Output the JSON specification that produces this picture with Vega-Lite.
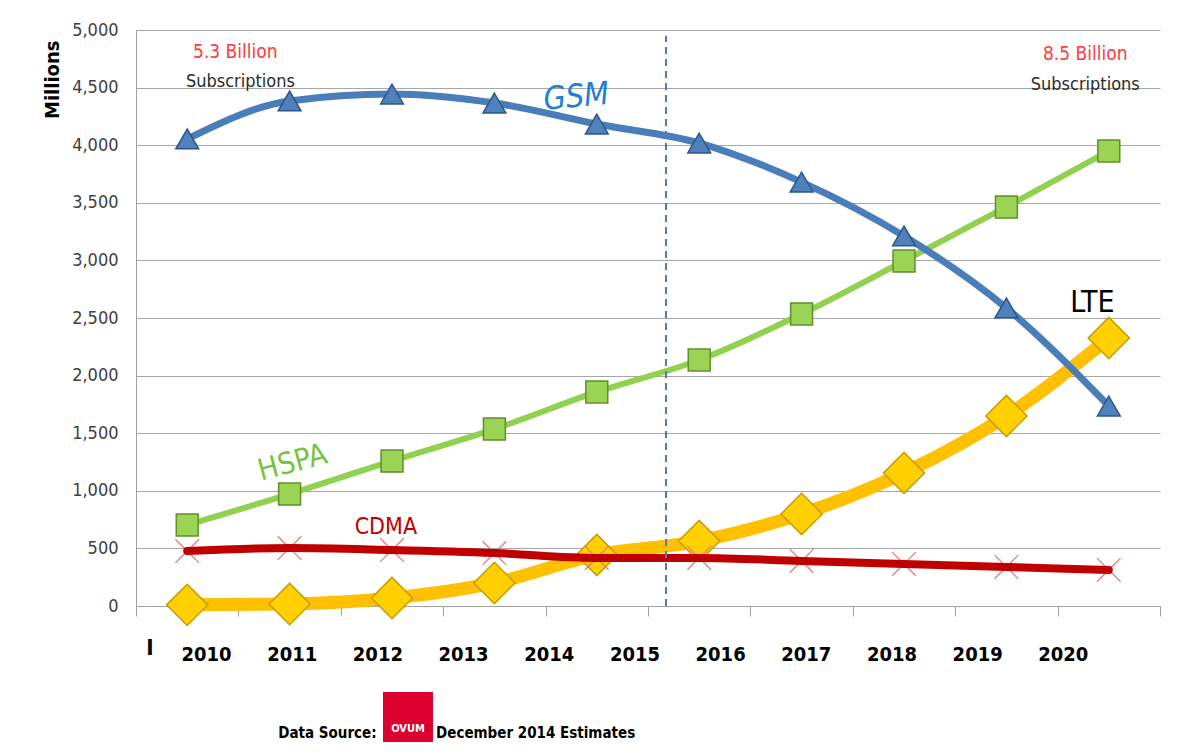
{
  "$schema": "https://vega.github.io/schema/vega-lite/v6.json",
  "width": 1024,
  "height": 576,
  "autosize": {"type": "none"},
  "padding": {"left": 136, "top": 30, "right": 25, "bottom": 149},
  "background": "white",
  "config": {
    "view": {"stroke": null},
    "font": "DejaVu Sans Condensed, Liberation Sans, sans-serif",
    "text": {"font": "DejaVu Sans Condensed, Liberation Sans, sans-serif"}
  },
  "datasets": {
    "subs": [
      {"point": 1, "series": "GSM", "value": 4054},
      {"point": 2, "series": "GSM", "value": 4384},
      {"point": 3, "series": "GSM", "value": 4444},
      {"point": 4, "series": "GSM", "value": 4366},
      {"point": 5, "series": "GSM", "value": 4184},
      {"point": 6, "series": "GSM", "value": 4019},
      {"point": 7, "series": "GSM", "value": 3680},
      {"point": 8, "series": "GSM", "value": 3212},
      {"point": 9, "series": "GSM", "value": 2587},
      {"point": 10, "series": "GSM", "value": 1736},
      {"point": 1, "series": "HSPA", "value": 703},
      {"point": 2, "series": "HSPA", "value": 972},
      {"point": 3, "series": "HSPA", "value": 1259},
      {"point": 4, "series": "HSPA", "value": 1536},
      {"point": 5, "series": "HSPA", "value": 1858},
      {"point": 6, "series": "HSPA", "value": 2135},
      {"point": 7, "series": "HSPA", "value": 2535},
      {"point": 8, "series": "HSPA", "value": 2995},
      {"point": 9, "series": "HSPA", "value": 3464},
      {"point": 10, "series": "HSPA", "value": 3950},
      {"point": 1, "series": "LTE", "value": 10},
      {"point": 2, "series": "LTE", "value": 17},
      {"point": 3, "series": "LTE", "value": 69},
      {"point": 4, "series": "LTE", "value": 200},
      {"point": 5, "series": "LTE", "value": 443},
      {"point": 6, "series": "LTE", "value": 564},
      {"point": 7, "series": "LTE", "value": 799},
      {"point": 8, "series": "LTE", "value": 1155},
      {"point": 9, "series": "LTE", "value": 1649},
      {"point": 10, "series": "LTE", "value": 2326},
      {"point": 1, "series": "CDMA", "value": 477},
      {"point": 2, "series": "CDMA", "value": 503},
      {"point": 3, "series": "CDMA", "value": 486},
      {"point": 4, "series": "CDMA", "value": 460},
      {"point": 5, "series": "CDMA", "value": 417},
      {"point": 6, "series": "CDMA", "value": 417},
      {"point": 7, "series": "CDMA", "value": 391},
      {"point": 8, "series": "CDMA", "value": 365},
      {"point": 9, "series": "CDMA", "value": 339},
      {"point": 10, "series": "CDMA", "value": 313}
    ],
    "years": [
      {"year": 2010}, {"year": 2011}, {"year": 2012}, {"year": 2013},
      {"year": 2014}, {"year": 2015}, {"year": 2016}, {"year": 2017},
      {"year": 2018}, {"year": 2019}, {"year": 2020}
    ]
  },
  "layer": [
    {
      "data": {"name": "subs"},
      "encoding": {
        "x": {
          "field": "point",
          "type": "quantitative",
          "scale": {"domain": [0.5, 10.5], "nice": false, "zero": false},
          "axis": {
            "values": [0.5, 1.5, 2.5, 3.5, 4.5, 5.5, 6.5, 7.5, 8.5, 9.5, 10.5],
            "labels": false,
            "grid": false,
            "ticks": true,
            "tickSize": 10,
            "tickColor": "#a0a0a0",
            "domainColor": "#a0a0a0",
            "title": null
          }
        },
        "y": {
          "field": "value",
          "type": "quantitative",
          "scale": {"domain": [0, 5000], "nice": false},
          "axis": {
            "values": [0, 500, 1000, 1500, 2000, 2500, 3000, 3500, 4000, 4500, 5000],
            "format": ",d",
            "labelFont": "DejaVu Sans Condensed, Liberation Sans, sans-serif",
            "labelFontSize": 18,
            "labelColor": "#404040",
            "labelPadding": 18,
            "ticks": false,
            "domainColor": "#a0a0a0",
            "gridColor": "#a6a6a6",
            "title": "Millions",
            "titleFont": "DejaVu Sans Condensed, Liberation Sans, sans-serif",
            "titleFontSize": 20,
            "titleFontWeight": "bold",
            "titleColor": "#000000",
            "titleAngle": -90,
            "titleAnchor": "end",
            "titleAlign": "right",
            "titleBaseline": "middle",
            "titleX": -84,
            "titleY": 10
          }
        }
      },
      "layer": [
        {
          "transform": [{"filter": "datum.series === 'LTE'"}],
          "mark": {"type": "line", "color": "#ffc000", "strokeWidth": 13, "interpolate": "monotone", "strokeCap": "round"}
        },
        {
          "transform": [{"filter": "datum.series === 'HSPA'"}],
          "mark": {"type": "line", "color": "#92d050", "strokeWidth": 6, "interpolate": "monotone"}
        },
        {
          "transform": [{"filter": "datum.series === 'GSM'"}],
          "mark": {"type": "line", "color": "#4a7ebb", "strokeWidth": 7, "interpolate": "monotone"}
        },
        {
          "transform": [{"filter": "datum.series === 'LTE'"}],
          "mark": {"type": "point", "shape": "diamond", "size": 1700, "filled": true, "fill": "#ffd000", "stroke": "#c89b00", "strokeWidth": 1.5, "opacity": 1}
        },
        {
          "transform": [{"filter": "datum.series === 'HSPA'"}],
          "mark": {"type": "point", "shape": "square", "size": 480, "filled": true, "fill": "#9bd355", "stroke": "#5f8f2a", "strokeWidth": 1.5, "opacity": 1}
        },
        {
          "transform": [{"filter": "datum.series === 'GSM'"}],
          "mark": {"type": "point", "shape": "triangle-up", "size": 520, "filled": true, "fill": "#4f81bd", "stroke": "#2f5686", "strokeWidth": 1.5, "opacity": 1}
        },
        {
          "transform": [{"filter": "datum.series === 'CDMA'"}],
          "mark": {"type": "point", "shape": "M-1,-1L1,1M1,-1L-1,1", "size": 560, "filled": false, "stroke": "#e8787a", "strokeWidth": 1.3, "opacity": 1}
        },
        {
          "transform": [{"filter": "datum.series === 'CDMA'"}],
          "mark": {"type": "line", "color": "#c00000", "strokeWidth": 8, "interpolate": "monotone", "strokeCap": "round"}
        },
        {
          "data": {"values": [{"point": 5.676, "value": 0, "value2": 4950}]},
          "mark": {"type": "rule", "color": "#4a7ebb", "strokeWidth": 2, "strokeDash": [7, 5]},
          "encoding": {"y2": {"field": "value2"}}
        },
        {
          "data": {"values": [
            {"point": 1.47, "value": 4809, "label": "5.3 Billion"},
            {"point": 9.77, "value": 4792, "label": "8.5 Billion"}
          ]},
          "mark": {"type": "text", "fontSize": 19, "color": "#ff3b3b", "align": "center", "baseline": "middle"},
          "encoding": {"text": {"field": "label"}}
        },
        {
          "data": {"values": [
            {"point": 1.52, "value": 4549, "label": "Subscriptions"},
            {"point": 9.77, "value": 4523, "label": "Subscriptions"}
          ]},
          "mark": {"type": "text", "fontSize": 18, "color": "#2b2b2b", "align": "center", "baseline": "middle"},
          "encoding": {"text": {"field": "label"}}
        },
        {
          "data": {"values": [{"point": 4.8, "value": 4420, "label": "GSM"}]},
          "mark": {"type": "text", "fontSize": 32, "fontStyle": "italic", "color": "#1f7fd4", "angle": -5, "align": "center", "baseline": "middle"},
          "encoding": {"text": {"field": "label"}}
        },
        {
          "data": {"values": [{"point": 2.03, "value": 1241, "label": "HSPA"}]},
          "mark": {"type": "text", "fontSize": 30, "color": "#7ac142", "angle": -15, "align": "center", "baseline": "middle"},
          "encoding": {"text": {"field": "label"}}
        },
        {
          "data": {"values": [{"point": 2.94, "value": 686, "label": "CDMA"}]},
          "mark": {"type": "text", "fontSize": 23, "color": "#c00000", "align": "center", "baseline": "middle"},
          "encoding": {"text": {"field": "label"}}
        },
        {
          "data": {"values": [{"point": 9.84, "value": 2630, "label": "LTE"}]},
          "mark": {"type": "text", "fontSize": 30, "color": "#000000", "align": "center", "baseline": "middle"},
          "encoding": {"text": {"field": "label"}}
        },
        {
          "data": {"values": [{"point": 2.912, "value": -746, "point2": 3.4, "value2": -1181}]},
          "mark": {"type": "rect", "color": "#dc0031", "clip": false},
          "encoding": {"x2": {"field": "point2"}, "y2": {"field": "value2"}}
        },
        {
          "data": {"values": [{"point": 3.156, "value": -1065, "label": "OVUM"}]},
          "mark": {"type": "text", "fontSize": 11, "fontWeight": "bold", "color": "#ffffff", "align": "center", "baseline": "middle", "clip": false},
          "encoding": {"text": {"field": "label"}}
        },
        {
          "data": {"values": [{"point": 0.637, "value": -365, "label": "I"}]},
          "mark": {"type": "text", "fontSize": 22, "fontWeight": "bold", "color": "#000000", "align": "center", "baseline": "middle", "clip": false},
          "encoding": {"text": {"field": "label"}}
        },
        {
          "data": {"values": [{"point": 2.85, "value": -1102, "label": "Data Source:"}]},
          "mark": {"type": "text", "fontSize": 15, "fontWeight": "bold", "color": "#000000", "align": "right", "baseline": "middle", "clip": false},
          "encoding": {"text": {"field": "label"}}
        },
        {
          "data": {"values": [{"point": 3.43, "value": -1102, "label": "December  2014 Estimates"}]},
          "mark": {"type": "text", "fontSize": 15, "fontWeight": "bold", "color": "#000000", "align": "left", "baseline": "middle", "clip": false},
          "encoding": {"text": {"field": "label"}}
        }
      ]
    },
    {
      "data": {"name": "years"},
      "mark": {"type": "rule", "opacity": 0},
      "encoding": {
        "x": {
          "field": "year",
          "type": "quantitative",
          "scale": {"domain": [2009.183, 2021.134], "nice": false, "zero": false},
          "axis": {
            "orient": "bottom",
            "values": [2010, 2011, 2012, 2013, 2014, 2015, 2016, 2017, 2018, 2019, 2020],
            "format": "d",
            "labelFont": "DejaVu Sans Condensed, Liberation Sans, sans-serif",
            "labelFontSize": 20,
            "labelFontWeight": "bold",
            "labelColor": "#000000",
            "labelPadding": 38,
            "ticks": false,
            "domain": false,
            "grid": false,
            "title": null
          }
        }
      }
    }
  ],
  "resolve": {"scale": {"x": "independent"}, "axis": {"x": "independent"}}
}
